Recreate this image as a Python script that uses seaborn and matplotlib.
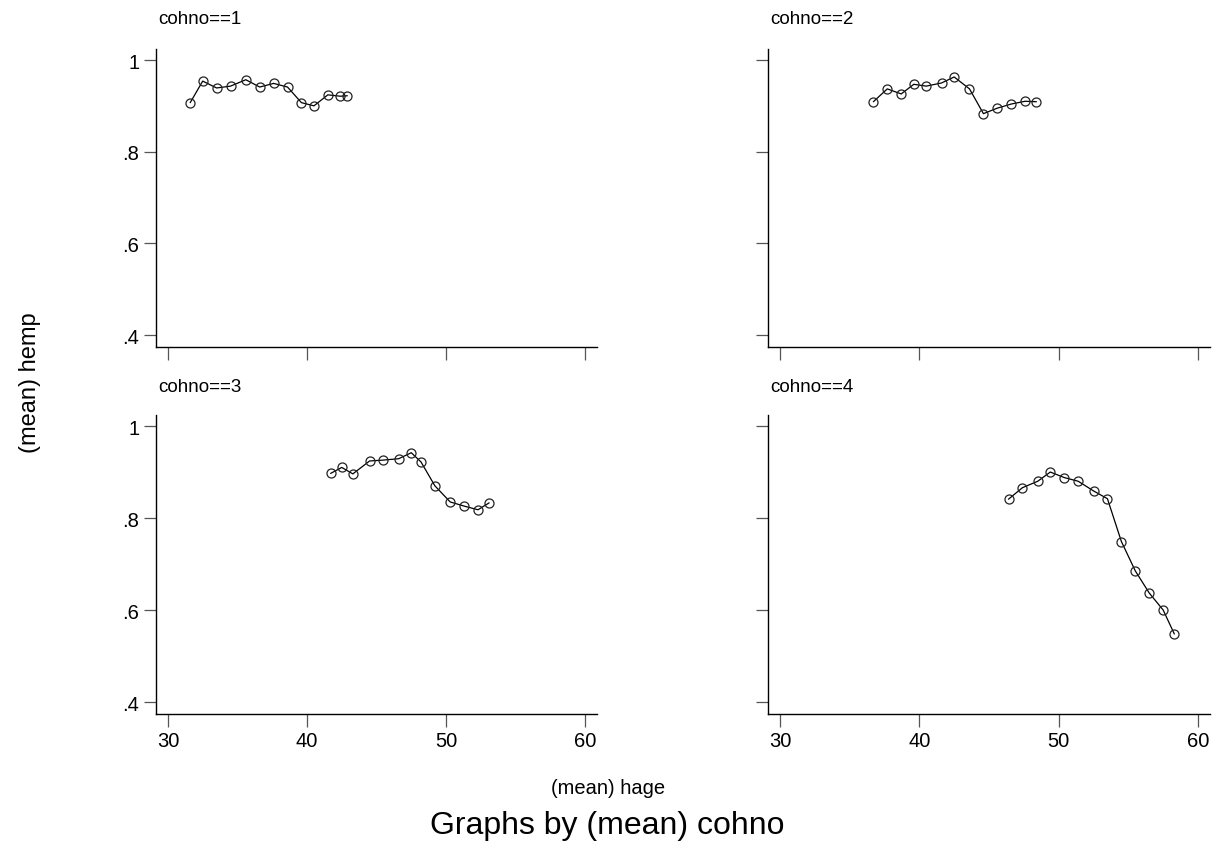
import matplotlib
matplotlib.use("Agg")
import matplotlib.pyplot as plt
import seaborn as sns
import pandas as pd

sns.set_theme(style="white")
plt.rcParams['font.family'] = ['Liberation Sans', 'DejaVu Sans']

# Data
hage_1 = [31.6, 32.5, 33.5, 34.5, 35.6, 36.6, 37.6, 38.6, 39.6, 40.5, 41.5, 42.4, 42.9]
hemp_1 = [0.907, 0.954, 0.939, 0.943, 0.957, 0.941, 0.949, 0.941, 0.907, 0.900, 0.924, 0.921, 0.922]

hage_2 = [36.7, 37.7, 38.7, 39.6, 40.5, 41.6, 42.5, 43.6, 44.6, 45.6, 46.6, 47.6, 48.4]
hemp_2 = [0.909, 0.937, 0.926, 0.947, 0.943, 0.950, 0.963, 0.937, 0.883, 0.895, 0.904, 0.910, 0.909]

hage_3 = [41.7, 42.5, 43.3, 44.5, 45.5, 46.6, 47.5, 48.2, 49.2, 50.3, 51.3, 52.3, 53.1]
hemp_3 = [0.897, 0.910, 0.896, 0.924, 0.926, 0.929, 0.942, 0.922, 0.870, 0.835, 0.826, 0.818, 0.833]

hage_4 = [46.4, 47.4, 48.5, 49.4, 50.4, 51.4, 52.5, 53.5, 54.5, 55.5, 56.5, 57.5, 58.3]
hemp_4 = [0.841, 0.866, 0.880, 0.900, 0.888, 0.880, 0.859, 0.842, 0.749, 0.685, 0.637, 0.600, 0.548]

cohorts = [1, 2, 3, 4]
x_ticks = [30, 40, 50, 60]
y_ticks = [1.0, 0.8, 0.6, 0.4]
y_tick_labels = ["1", ".8", ".6", ".4"]

series = {1: (hage_1, hemp_1), 2: (hage_2, hemp_2), 3: (hage_3, hemp_3), 4: (hage_4, hemp_4)}

W, H = 1214, 853
fig = plt.figure(figsize=(W / 100, H / 100), dpi=100)
fig.patch.set_facecolor("white")

# axes rectangles in pixels: (left, top, right, bottom)
rects = {
    1: (156, 50, 597, 348),
    2: (768, 50, 1210, 348),
    3: (156, 416, 597, 715),
    4: (768, 416, 1210, 715),
}

for c in cohorts:
    l, t, r, b = rects[c]
    ax = fig.add_axes([l / W, 1 - b / H, (r - l) / W, (b - t) / H])
    xs, ys = series[c]
    df = pd.DataFrame({"hage": xs, "hemp": ys})
    sns.lineplot(data=df, x="hage", y="hemp", ax=ax, color="black", linewidth=0.9,
                 marker="o", markersize=6.5, markerfacecolor="none",
                 markeredgecolor="#222222", markeredgewidth=0.9, estimator=None, sort=False)
    ax.set_xlim(29.14, 60.86)
    ax.set_ylim(0.374, 1.024)
    ax.set_xticks(x_ticks)
    ax.set_yticks(y_ticks)
    for s in ["top", "right"]:
        ax.spines[s].set_visible(False)
    for s in ["left", "bottom"]:
        ax.spines[s].set_color("black")
        ax.spines[s].set_linewidth(1.0)
    ax.tick_params(axis="both", direction="out", length=9, width=0.9, color="#555555",
                   labelsize=14.5, labelcolor="black", pad=3,
                   bottom=True, left=True)
    ax.set_xlabel("")
    ax.set_ylabel("")
    if c in (1, 3):
        ax.set_yticklabels(y_tick_labels)
    else:
        ax.set_yticklabels([])
    if c in (3, 4):
        ax.set_xticklabels([str(v) for v in x_ticks])
    else:
        ax.set_xticklabels([])
    ax.grid(False)
    ax.set_facecolor("white")
    fig.text((l + 2) / W, 1 - 20 / H if c in (1, 2) else 1 - 388 / H, f"cohno=={c}",
             ha="left", va="center", fontsize=13.5, color="black")

fig.text(30 / W, 1 - 383 / H, "(mean) hemp", rotation=90, ha="center", va="center",
         fontsize=17, color="black")
fig.text(608 / W, 1 - 789 / H, "(mean) hage", ha="center", va="center",
         fontsize=14.5, color="black")
fig.text(607 / W, 1 - 826 / H, "Graphs by (mean) cohno", ha="center", va="center",
         fontsize=23, color="black")

fig.savefig("out.png", dpi=100, facecolor="white")
